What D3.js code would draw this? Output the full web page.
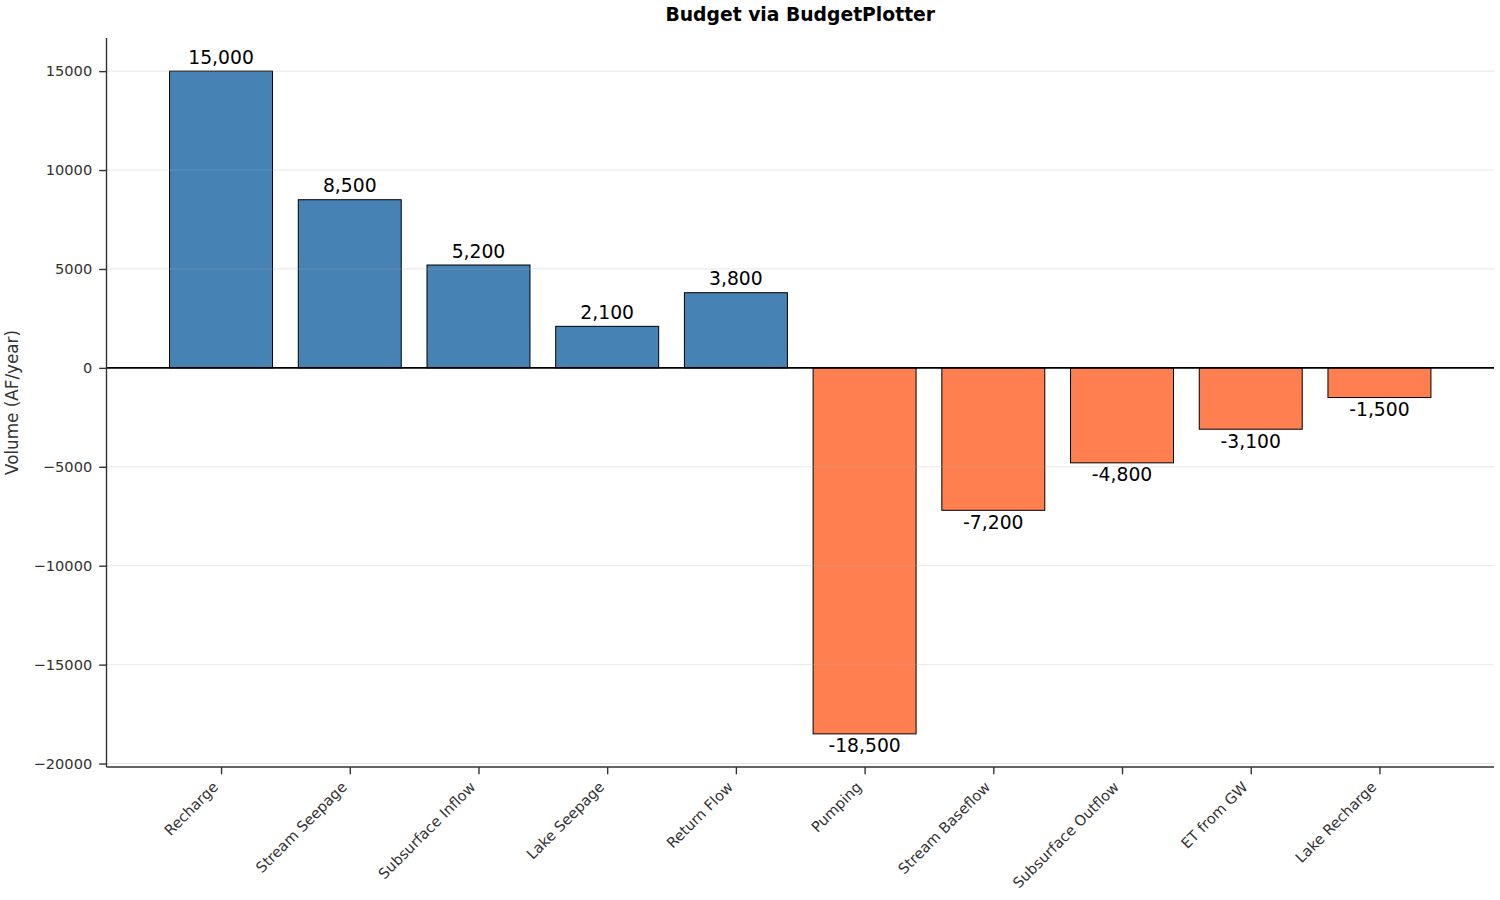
<!DOCTYPE html>
<html>
<head>
<meta charset="utf-8">
<script src="https://cdn.jsdelivr.net/npm/d3@7"></script>
<style>
  body { margin: 0; background: #fff; }
  text { font-family: "DejaVu Sans", sans-serif; }
</style>
</head>
<body>
<div id="chart"></div>
<script>
// data
const categories = ["Recharge", "Stream Seepage", "Subsurface Inflow", "Lake Seepage", "Return Flow",
  "Pumping", "Stream Baseflow", "Subsurface Outflow", "ET from GW", "Lake Recharge"];
const volumes = [15000, 8500, 5200, 2100, 3800, -18500, -7200, -4800, -3100, -1500];
const yTicks = [-20000, -15000, -10000, -5000, 0, 5000, 10000, 15000];

const title = "Budget via BudgetPlotter";
const yLabel = "Volume (AF/year)";

//size and margin
const canvWidth = 1500, canvHeight = 900;
const margin = {top: 38, right: 6, bottom: 133, left: 106.5};
const width = canvWidth - margin.left - margin.right;
const height = canvHeight - margin.top - margin.bottom;
const labelFont = "'Noto Sans', 'Open Sans', sans-serif";
const tickLen = 7.3;

const svg = d3.select("#chart").append("svg")
  .attr("width", canvWidth)
  .attr("height", canvHeight);

const g = svg.append("g")
  .attr("transform", `translate(${margin.left},${margin.top})`);

//scales (matplotlib style 5% margins)
const n = categories.length;
const xPad = 0.4 + (n - 1 + 0.8) * 0.05;
const xScale = d3.scaleLinear().domain([-xPad, n - 1 + xPad]).range([0, width]);
const yMin = d3.min(volumes), yMax = d3.max(volumes);
const yPad = (yMax - yMin) * 0.05;
const yScale = d3.scaleLinear().domain([yMin - yPad, yMax + yPad]).range([height, 0]);
const barW = xScale(0.8) - xScale(0);

//bars
g.selectAll("rect.bar")
  .data(volumes)
  .enter().append("rect")
  .attr("class", "bar")
  .attr("x", (d, i) => xScale(i - 0.4))
  .attr("y", d => yScale(Math.max(0, d)))
  .attr("width", barW)
  .attr("height", d => Math.abs(yScale(d) - yScale(0)))
  .attr("fill", d => d >= 0 ? "#4682B4" : "#FF7F50")
  .attr("stroke", "#000")
  .attr("stroke-width", 1);

//grid (drawn over bars, semi transparent)
g.selectAll("line.grid")
  .data(yTicks)
  .enter().append("line")
  .attr("class", "grid")
  .attr("x1", 0).attr("x2", width)
  .attr("y1", d => yScale(d)).attr("y2", d => yScale(d))
  .attr("stroke", "#b0b0b0")
  .attr("stroke-opacity", 0.3)
  .attr("stroke-width", 1);

//zero line
g.append("line")
  .attr("x1", 0).attr("x2", width)
  .attr("y1", yScale(0)).attr("y2", yScale(0))
  .attr("stroke", "#000")
  .attr("stroke-width", 1.6);

//value labels
const fmt = d3.format(",");
g.selectAll("text.val")
  .data(volumes)
  .enter().append("text")
  .attr("class", "val")
  .attr("x", (d, i) => xScale(i))
  .attr("y", d => d >= 0 ? yScale(d) - 7.5 : yScale(d) + 18.5)
  .attr("text-anchor", "middle")
  .attr("font-size", "18.75px")
  .attr("fill", "#000")
  .text(d => fmt(d).replace("\u2212", "-"));

//y axis
const yAxis = d3.axisLeft(yScale).tickValues(yTicks).tickSize(tickLen).tickPadding(7)
  .tickFormat(d => d < 0 ? "\u2212" + Math.abs(d) : d);
const gy = g.append("g").call(yAxis);
gy.select(".domain").attr("stroke", "#333").attr("stroke-width", 1.4).attr("d", `M0,0V${height}`);
gy.selectAll(".tick line").attr("stroke", "#333").attr("stroke-width", 1.4);
gy.selectAll(".tick text").attr("font-size", "14.6px").attr("fill", "#333")
  .attr("font-family", labelFont);

//x axis
const xAxis = d3.axisBottom(xScale).tickValues(d3.range(n)).tickSize(tickLen).tickFormat("");
const gx = g.append("g").attr("transform", `translate(0,${height})`).call(xAxis);
gx.select(".domain").attr("stroke", "#333").attr("stroke-width", 1.4).attr("d", `M0,0H${width}`);
gx.selectAll(".tick line").attr("stroke", "#333").attr("stroke-width", 1.4);

//rotated x labels
g.selectAll("text.xlab")
  .data(categories)
  .enter().append("text")
  .attr("class", "xlab")
  .attr("transform", (d, i) => `translate(${xScale(i) - 2},${height + 21}) rotate(-45)`)
  .attr("text-anchor", "end")
  .attr("font-size", "14.6px")
  .attr("font-family", labelFont)
  .attr("fill", "#333")
  .text(d => d);

//title
svg.append("text")
  .attr("x", margin.left + width / 2)
  .attr("y", 21)
  .attr("text-anchor", "middle")
  .attr("font-size", "18.75px")
  .attr("font-weight", "bold")
  .attr("fill", "#000")
  .text(title);

//y label
svg.append("text")
  .attr("transform", `translate(18,${margin.top + height / 2}) rotate(-90)`)
  .attr("text-anchor", "middle")
  .attr("font-size", "16.8px")
  .attr("font-family", labelFont)
  .attr("fill", "#333")
  .text(yLabel);
</script>
</body>
</html>
